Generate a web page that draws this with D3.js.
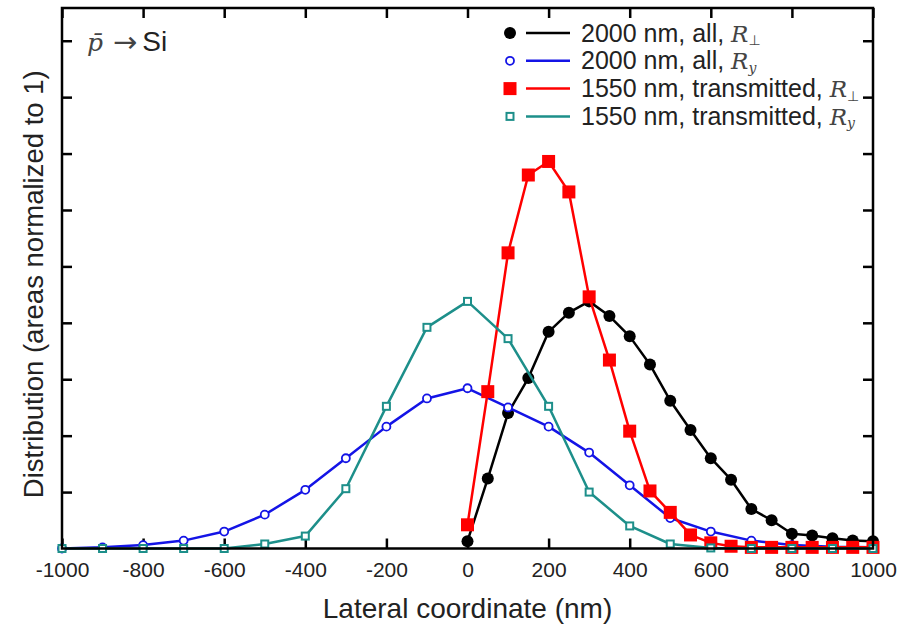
<!DOCTYPE html>
<html>
<head>
<meta charset="utf-8">
<script src="https://cdn.jsdelivr.net/npm/d3@7"></script>
<style>
  html, body { margin: 0; padding: 0; background: #fff; }
  svg { display: block; }
  text { font-family: "Liberation Sans", Arial, Helvetica, sans-serif; fill: #222; }
</style>
</head>
<body>
<svg id="chart" width="912" height="624"></svg>
<script>
// Lateral coordinate grids (nm)
const xHalf = [0, 50, 100, 150, 200, 250, 300, 350, 400, 450, 500, 550, 600, 650, 700, 750, 800, 850, 900, 950, 1000];
const xFull = [-1000, -900, -800, -700, -600, -500, -400, -300, -200, -100, 0, 100, 200, 300, 400, 500, 600, 700, 800, 900, 1000];

// Distributions (units of 1e-3 per nm)
const allPerp = [0.065, 0.62, 1.20, 1.51, 1.92, 2.09, 2.19, 2.06, 1.88, 1.63, 1.31, 1.05, 0.80, 0.61, 0.35, 0.25, 0.13, 0.115, 0.09, 0.07, 0.065];
const allY = [0.0, 0.01, 0.03, 0.07, 0.15, 0.30, 0.52, 0.80, 1.08, 1.33, 1.42, 1.25, 1.08, 0.85, 0.56, 0.27, 0.15, 0.07, 0.03, 0.015, 0.01];
const transPerp = [0.21, 1.39, 2.62, 3.31, 3.43, 3.16, 2.23, 1.67, 1.04, 0.51, 0.32, 0.12, 0.05, 0.02, 0.01, 0.01, 0.01, 0.01, 0.01, 0.01, 0.01];
const transY = [0.0, 0.0, 0.0, 0.0, 0.0, 0.04, 0.11, 0.53, 1.26, 1.96, 2.19, 1.86, 1.26, 0.50, 0.20, 0.04, 0.005, 0.0, 0.0, 0.0, 0.0];

// Axis ticks
const xTicks = [-1000, -800, -600, -400, -200, 0, 200, 400, 600, 800, 1000];
const yTicks = [0.5, 1.0, 1.5, 2.0, 2.5, 3.0, 3.5, 4.0, 4.5];

// Legend entries
const seriesLabels = ["2000 nm, all, ", "2000 nm, all, ", "1550 nm, transmitted, ", "1550 nm, transmitted, "];
const seriesSubs = ["\u22A5", "y", "\u22A5", "y"];

const series = [
  { xs: xHalf, ys: allPerp, color: "#000000", marker: "dot" },
  { xs: xFull, ys: allY, color: "#1414e6", marker: "ring" },
  { xs: xHalf, ys: transPerp, color: "#ff0000", marker: "square" },
  { xs: xFull, ys: transY, color: "#1d8f8a", marker: "box" }
];

const svg = d3.select("#chart");
const plotLeft = 62, plotRight = 873, plotTop = 8, plotBottom = 548.5;

const x = d3.scaleLinear().domain([-1000, 1000]).range([plotLeft, plotRight]);
const y = d3.scaleLinear().domain([0, 4.79]).range([plotBottom, plotTop]);

const tickLen = 10;

// Bottom axis with labels, ticks pointing inward
svg.append("g")
  .attr("transform", `translate(0,${plotBottom})`)
  .call(d3.axisBottom(x).tickValues(xTicks).tickSize(-tickLen).tickPadding(14).tickFormat(d3.format("d")))
  .call(g => g.select(".domain").remove())
  .call(g => g.selectAll(".tick line").attr("stroke", "#000").attr("stroke-width", 2.5))
  .call(g => g.selectAll(".tick text").attr("font-size", 21).attr("fill", "#222")
    .attr("font-family", "'Liberation Sans', Arial, sans-serif").text(d => d < 0 ? "-" + Math.abs(d) : d));

// Top axis ticks
svg.append("g")
  .attr("transform", `translate(0,${plotTop})`)
  .call(d3.axisTop(x).tickValues(xTicks).tickSize(-tickLen).tickFormat(""))
  .call(g => g.select(".domain").remove())
  .call(g => g.selectAll(".tick line").attr("stroke", "#000").attr("stroke-width", 2.5));

// Left and right axis ticks (no labels)
svg.append("g")
  .attr("transform", `translate(${plotLeft},0)`)
  .call(d3.axisLeft(y).tickValues(yTicks).tickSize(-tickLen).tickFormat(""))
  .call(g => g.select(".domain").remove())
  .call(g => g.selectAll(".tick line").attr("stroke", "#000").attr("stroke-width", 2.5));

svg.append("g")
  .attr("transform", `translate(${plotRight},0)`)
  .call(d3.axisRight(y).tickValues(yTicks).tickSize(-tickLen).tickFormat(""))
  .call(g => g.select(".domain").remove())
  .call(g => g.selectAll(".tick line").attr("stroke", "#000").attr("stroke-width", 2.5));

// Series lines and markers
const line = d3.line().x(d => x(d[0])).y(d => y(d[1]));

function drawMarker(g, type, color, cx, cy) {
  if (type === "dot") {
    g.append("circle").attr("cx", cx).attr("cy", cy).attr("r", 6).attr("fill", color);
  } else if (type === "ring") {
    g.append("circle").attr("cx", cx).attr("cy", cy).attr("r", 4)
      .attr("fill", "#fff").attr("stroke", color).attr("stroke-width", 1.8);
  } else if (type === "square") {
    g.append("rect").attr("x", cx - 6.5).attr("y", cy - 6.5).attr("width", 13).attr("height", 13).attr("fill", color);
  } else {
    g.append("rect").attr("x", cx - 3.5).attr("y", cy - 3.5).attr("width", 7).attr("height", 7)
      .attr("fill", "#fff").attr("stroke", color).attr("stroke-width", 2);
  }
}

series.forEach(s => {
  const pts = s.xs.map((xv, i) => [xv, s.ys[i]]);
  const g = svg.append("g");
  g.append("path").attr("d", line(pts)).attr("fill", "none")
    .attr("stroke", s.color).attr("stroke-width", 2.5).attr("stroke-linejoin", "round");
  pts.forEach(p => drawMarker(g, s.marker, s.color, x(p[0]), y(p[1])));
});

// Frame
svg.append("rect").attr("x", plotLeft).attr("y", plotTop)
  .attr("width", plotRight - plotLeft).attr("height", plotBottom - plotTop)
  .attr("fill", "none").attr("stroke", "#000").attr("stroke-width", 2.5);

// Axis titles
svg.append("text").attr("x", (plotLeft + plotRight) / 2).attr("y", 618)
  .attr("text-anchor", "middle").attr("font-size", 28)
  .text("Lateral coordinate (nm)");

svg.append("text").attr("transform", `translate(43,${(plotTop + plotBottom) / 2 + 6}) rotate(-90)`)
  .attr("text-anchor", "middle").attr("font-size", 27.5)
  .text("Distribution (areas normalized to 1)");

// Reaction label
const react = svg.append("text").attr("x", 87).attr("y", 51).attr("font-size", 25);
react.append("tspan").attr("font-family", "'DejaVu Serif', serif").attr("font-style", "italic")
  .attr("fill", "#444").text("p\u0304");
react.append("tspan").attr("font-family", "'DejaVu Sans', sans-serif").attr("fill", "#444")
  .attr("font-size", 29).attr("dx", 10).attr("dy", 1).text("\u2192");
react.append("tspan").attr("font-size", 28).attr("dx", 5).attr("dy", -1).text("Si");

// Legend
const legendY0 = 33, legendStep = 27.8;
series.forEach((s, i) => {
  const cy = legendY0 + i * legendStep;
  const g = svg.append("g");
  drawMarker(g, s.marker, s.color, 510, cy);
  g.append("line").attr("x1", 526).attr("x2", 570).attr("y1", cy).attr("y2", cy)
    .attr("stroke", s.color).attr("stroke-width", 2.5);
  const t = g.append("text").attr("x", 581).attr("y", cy + 8.5).attr("font-size", 25);
  t.append("tspan").text(seriesLabels[i]);
  t.append("tspan").attr("font-family", "'DejaVu Serif', serif").attr("font-style", "italic")
    .attr("fill", "#444").attr("font-size", 23).text("R");
  t.append("tspan").attr("font-family", seriesSubs[i] === "y" ? "'DejaVu Serif', serif" : "'DejaVu Sans', sans-serif")
    .attr("font-style", seriesSubs[i] === "y" ? "italic" : "normal")
    .attr("fill", "#444").attr("font-size", 14).attr("dy", 3.5).text(seriesSubs[i]);
});
</script>
</body>
</html>
